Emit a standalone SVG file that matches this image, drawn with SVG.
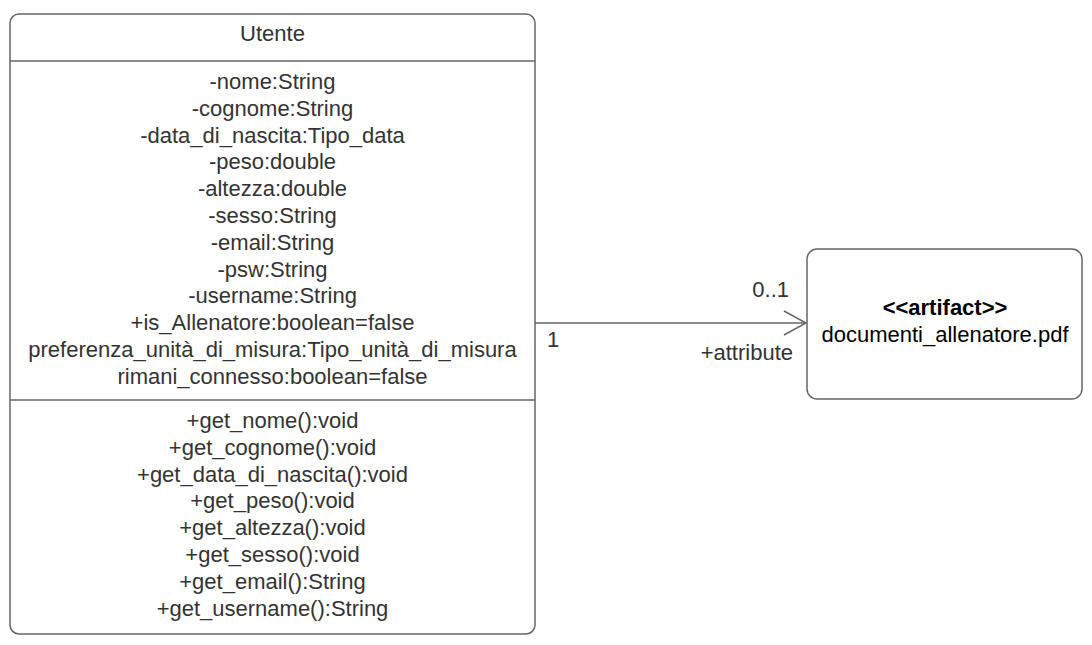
<svg xmlns="http://www.w3.org/2000/svg" width="1092" height="645" viewBox="0 0 1092 645">
<style>
.box{fill:#ffffff;stroke:#666666;stroke-width:1.5}
.div{stroke:#666666;stroke-width:1.5}
.t{font-family:"Liberation Sans",Arial,sans-serif;font-size:22px;fill:#333333;text-anchor:middle}
.l{font-family:"Liberation Sans",Arial,sans-serif;font-size:22px;fill:#333333}
.a{font-family:"Liberation Sans",Arial,sans-serif;font-size:22px;fill:#000000;text-anchor:middle}
.conn{stroke:#666666;stroke-width:1.5;fill:none}
</style>
<rect width="1092" height="645" fill="#ffffff"/>
<g id="utente">
<rect class="box" x="10" y="14" width="525" height="620" rx="9"/>
<line class="div" x1="10" y1="61" x2="535" y2="61"/>
<line class="div" x1="10" y1="400" x2="535" y2="400"/>
<text class="t" x="272.5" y="41">Utente</text>
<text class="t" x="272.5" y="89">-nome:String</text>
<text class="t" x="272.5" y="115.8">-cognome:String</text>
<text class="t" x="272.5" y="142.6">-data_di_nascita:Tipo_data</text>
<text class="t" x="272.5" y="169.4">-peso:double</text>
<text class="t" x="272.5" y="196.2">-altezza:double</text>
<text class="t" x="272.5" y="223">-sesso:String</text>
<text class="t" x="272.5" y="249.8">-email:String</text>
<text class="t" x="272.5" y="276.6">-psw:String</text>
<text class="t" x="272.5" y="303.4">-username:String</text>
<text class="t" x="272.5" y="330.2">+is_Allenatore:boolean=false</text>
<text class="t" x="272.5" y="357">preferenza_unità_di_misura:Tipo_unità_di_misura</text>
<text class="t" x="272.5" y="383.8">rimani_connesso:boolean=false</text>
<text class="t" x="272.5" y="428">+get_nome():void</text>
<text class="t" x="272.5" y="454.8">+get_cognome():void</text>
<text class="t" x="272.5" y="481.6">+get_data_di_nascita():void</text>
<text class="t" x="272.5" y="508.4">+get_peso():void</text>
<text class="t" x="272.5" y="535.2">+get_altezza():void</text>
<text class="t" x="272.5" y="562">+get_sesso():void</text>
<text class="t" x="272.5" y="588.8">+get_email():String</text>
<text class="t" x="272.5" y="615.6">+get_username():String</text>
</g>
<g id="artifact">
<rect class="box" x="807" y="249" width="275" height="150" rx="10"/>
<text class="a" x="945" y="315" font-weight="bold">&lt;&lt;artifact&gt;&gt;</text>
<text class="a" x="945" y="342">documenti_allenatore.pdf</text>
</g>
<g id="connectors">
<line class="conn" x1="535" y1="323" x2="806" y2="323"/>
<polyline class="conn" points="784,311 806,323 784,335"/>
<text class="l" x="789" y="297" text-anchor="end" fill="#222222">0..1</text>
<text class="l" x="547" y="347" fill="#222222">1</text>
<text class="l" x="793" y="360" text-anchor="end">+attribute</text>
</g>
</svg>
